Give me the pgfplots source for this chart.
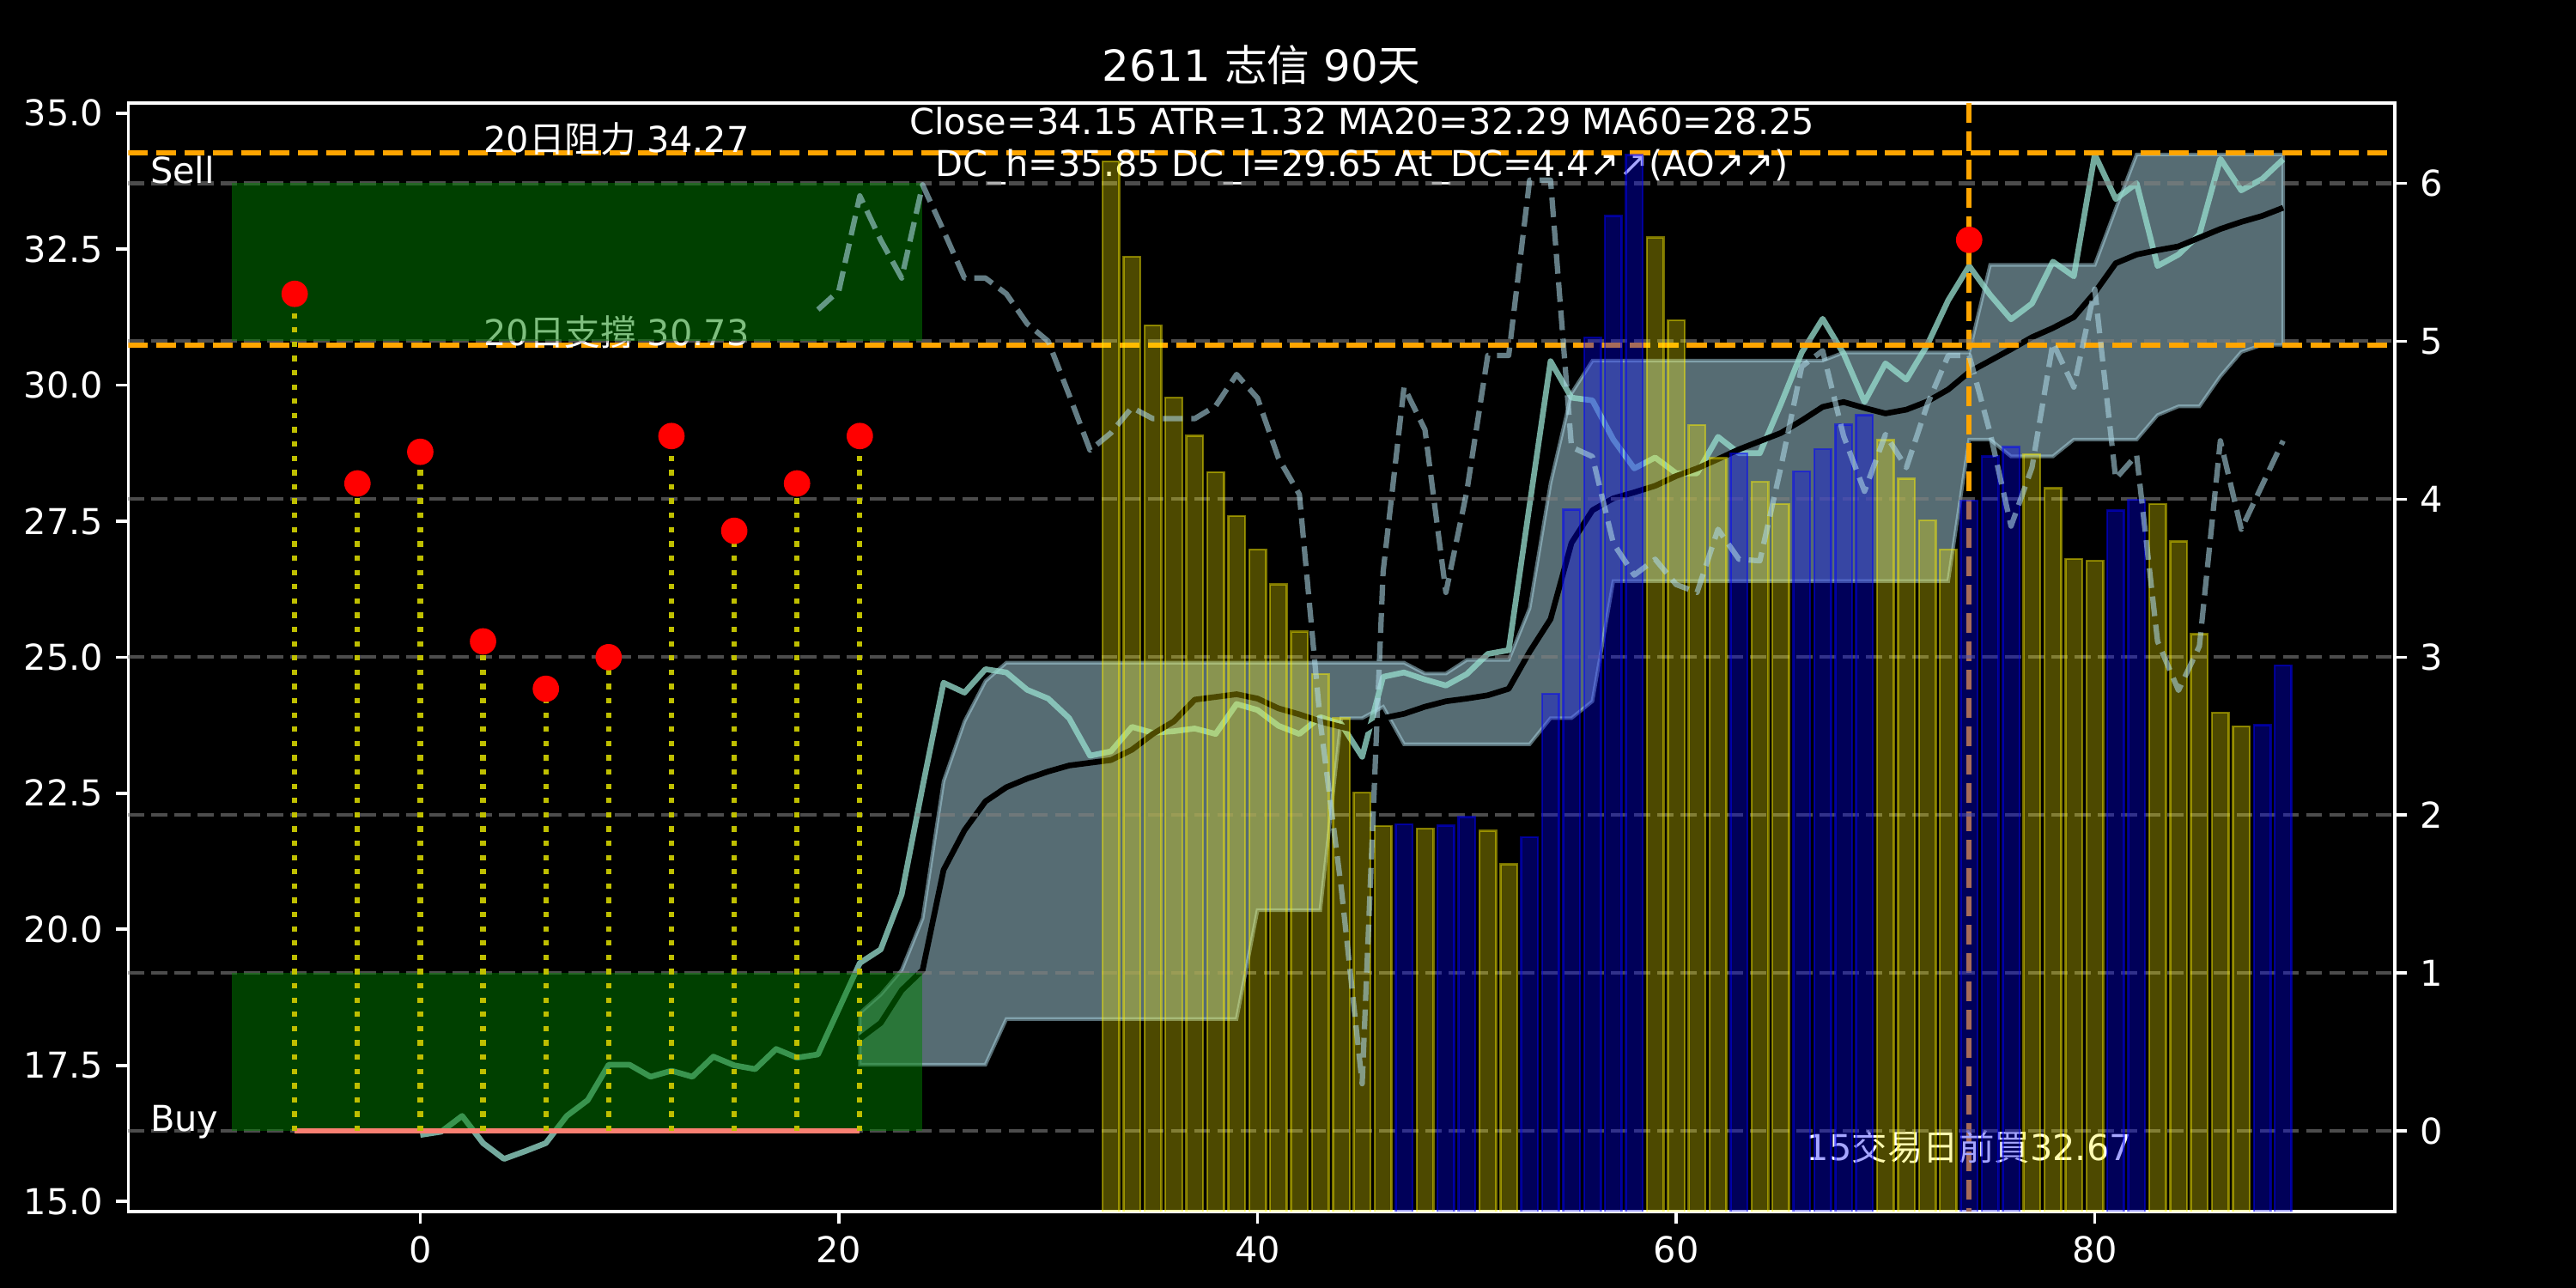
\documentclass[border=0pt]{standalone}
\usepackage{fontspec}
\setmainfont{DejaVu Sans}
\newfontfamily\cjk{Noto Sans CJK TC}
\usepackage{pgfplots}
\usepackage{pgfplotstable}
\pgfplotsset{compat=1.18}
\definecolor{bandc}{RGB}{173,216,230}
\definecolor{closec}{RGB}{150,220,205}
\definecolor{orangec}{RGB}{255,165,0}
\definecolor{salmonc}{RGB}{250,128,114}
\definecolor{stemc}{RGB}{191,191,0}
\definecolor{greenc}{RGB}{0,128,0}
\definecolor{gridc}{RGB}{128,128,128}

\pgfplotstableread{
x close
0 16.22
1 16.28
2 16.57
3 16.07
4 15.78
5 15.92
6 16.07
7 16.57
8 16.86
9 17.51
10 17.51
11 17.29
12 17.40
13 17.29
14 17.66
15 17.50
16 17.43
17 17.80
18 17.64
19 17.70
20 18.54
21 19.38
22 19.63
23 20.64
24 22.62
25 24.53
26 24.35
27 24.78
28 24.72
29 24.40
30 24.24
31 23.88
32 23.19
33 23.27
34 23.72
35 23.61
36 23.64
37 23.69
38 23.59
39 24.14
40 24.03
41 23.74
42 23.59
43 23.90
44 23.77
45 23.17
46 24.64
47 24.72
48 24.59
49 24.48
50 24.69
51 25.06
52 25.13
53 27.80
54 30.44
55 29.77
56 29.72
57 29.00
58 28.47
59 28.67
60 28.38
61 28.38
62 29.05
63 28.75
64 28.75
65 29.65
66 30.60
67 31.22
68 30.58
69 29.69
70 30.40
71 30.10
72 30.74
73 31.56
74 32.19
75 31.66
76 31.21
77 31.50
78 32.27
79 32.00
80 34.24
81 33.42
82 33.71
83 32.19
84 32.40
85 32.77
86 34.16
87 33.58
88 33.79
89 34.15
}\closetab

\pgfplotstableread{
x ma
21 17.99
22 18.28
23 18.88
24 19.25
25 21.09
26 21.82
27 22.35
28 22.61
29 22.77
30 22.90
31 23.01
32 23.06
33 23.11
34 23.30
35 23.59
36 23.82
37 24.22
38 24.27
39 24.32
40 24.24
41 24.06
42 23.95
43 23.82
44 23.72
45 23.64
46 23.88
47 23.96
48 24.09
49 24.19
50 24.24
51 24.30
52 24.42
53 25.10
54 25.70
55 27.10
56 27.70
57 27.92
58 28.03
59 28.15
60 28.33
61 28.47
62 28.64
63 28.82
64 28.97
65 29.12
66 29.35
67 29.60
68 29.69
69 29.58
70 29.48
71 29.55
72 29.70
73 29.92
74 30.24
75 30.45
76 30.66
77 30.88
78 31.05
79 31.25
80 31.70
81 32.24
82 32.40
83 32.48
84 32.55
85 32.71
86 32.87
87 33.00
88 33.11
89 33.26
}\matab

% Donchian-style band: upper edge left to right, then lower edge right to left
\pgfplotstableread{
x y
21 18.46
22 18.80
23 19.25
24 20.20
25 22.72
26 23.82
27 24.56
28 24.90
47 24.90
48 24.70
49 24.70
50 24.95
52 24.95
53 25.90
54 28.20
55 29.85
56 30.45
67 30.45
68 30.60
74 30.60
75 32.21
80 32.21
81 33.24
82 34.24
89 34.24
89 30.74
88 30.74
87 30.61
86 30.16
85 29.61
84 29.61
83 29.45
82 29.00
79 29.00
78 28.69
76 28.69
75 29.00
74 29.00
73 26.40
57 26.40
56 24.19
55 23.88
54 23.88
53 23.40
47 23.40
46 24.09
45 23.88
44 23.88
43 20.35
40 20.35
39 18.35
28 18.35
27 17.51
21 17.51
}\bandtab

\pgfplotstableread{
x atdc
19 5.20
20 5.32
21 5.92
22 5.64
23 5.40
24 5.99
25 5.70
26 5.40
27 5.40
28 5.30
29 5.11
30 5.00
31 4.66
32 4.31
33 4.42
34 4.58
35 4.51
36 4.51
37 4.51
38 4.59
39 4.79
40 4.64
41 4.26
42 4.03
43 2.59
44 1.54
45 0.30
46 3.54
47 4.71
48 4.44
49 3.41
50 4.05
51 4.91
52 4.91
53 6.02
54 6.02
55 4.33
56 4.27
57 3.72
58 3.52
59 3.62
60 3.46
61 3.41
62 3.81
63 3.62
64 3.61
65 4.20
66 4.84
67 4.94
68 4.40
69 4.05
70 4.41
71 4.20
72 4.60
73 4.91
74 4.91
75 4.42
76 3.83
77 4.20
78 4.99
79 4.71
80 5.33
81 4.13
82 4.28
83 3.10
84 2.79
85 3.07
86 4.37
87 3.81
88 4.09
89 4.37
}\atdctab

% bars: outline of each bar (x-0.4 .. x+0.4, from below the axis to the value)
\pgfplotstableread{
x y
32.6 -1
32.6 6.137
33.4 6.137
33.4 -1
33.6 -1
33.6 5.536
34.4 5.536
34.4 -1
34.6 -1
34.6 5.101
35.4 5.101
35.4 -1
35.6 -1
35.6 4.643
36.4 4.643
36.4 -1
36.6 -1
36.6 4.402
37.4 4.402
37.4 -1
37.6 -1
37.6 4.172
38.4 4.172
38.4 -1
38.6 -1
38.6 3.894
39.4 3.894
39.4 -1
39.6 -1
39.6 3.682
40.4 3.682
40.4 -1
40.6 -1
40.6 3.461
41.4 3.461
41.4 -1
41.6 -1
41.6 3.162
42.4 3.162
42.4 -1
42.6 -1
42.6 2.894
43.4 2.894
43.4 -1
43.6 -1
43.6 2.613
44.4 2.613
44.4 -1
44.6 -1
44.6 2.142
45.4 2.142
45.4 -1
45.6 -1
45.6 1.930
46.4 1.930
46.4 -1
47.6 -1
47.6 1.916
48.4 1.916
48.4 -1
50.6 -1
50.6 1.901
51.4 1.901
51.4 -1
51.6 -1
51.6 1.689
52.4 1.689
52.4 -1
58.6 -1
58.6 5.657
59.4 5.657
59.4 -1
59.6 -1
59.6 5.132
60.4 5.132
60.4 -1
60.6 -1
60.6 4.470
61.4 4.470
61.4 -1
61.6 -1
61.6 4.260
62.4 4.260
62.4 -1
63.6 -1
63.6 4.110
64.4 4.110
64.4 -1
64.6 -1
64.6 3.970
65.4 3.970
65.4 -1
69.6 -1
69.6 4.375
70.4 4.375
70.4 -1
70.6 -1
70.6 4.130
71.4 4.130
71.4 -1
71.6 -1
71.6 3.865
72.4 3.865
72.4 -1
72.6 -1
72.6 3.682
73.4 3.682
73.4 -1
76.6 -1
76.6 4.285
77.4 4.285
77.4 -1
77.6 -1
77.6 4.070
78.4 4.070
78.4 -1
78.6 -1
78.6 3.622
79.4 3.622
79.4 -1
79.6 -1
79.6 3.610
80.4 3.610
80.4 -1
82.6 -1
82.6 3.970
83.4 3.970
83.4 -1
83.6 -1
83.6 3.734
84.4 3.734
84.4 -1
84.6 -1
84.6 3.147
85.4 3.147
85.4 -1
85.6 -1
85.6 2.650
86.4 2.650
86.4 -1
86.6 -1
86.6 2.562
87.4 2.562
87.4 -1
}\ybars

\pgfplotstableread{
x y
46.6 -1
46.6 1.943
47.4 1.943
47.4 -1
48.6 -1
48.6 1.934
49.4 1.934
49.4 -1
49.6 -1
49.6 1.988
50.4 1.988
50.4 -1
52.6 -1
52.6 1.861
53.4 1.861
53.4 -1
53.6 -1
53.6 2.767
54.4 2.767
54.4 -1
54.6 -1
54.6 3.935
55.4 3.935
55.4 -1
55.6 -1
55.6 5.023
56.4 5.023
56.4 -1
56.6 -1
56.6 5.793
57.4 5.793
57.4 -1
57.6 -1
57.6 6.180
58.4 6.180
58.4 -1
62.6 -1
62.6 4.290
63.4 4.290
63.4 -1
65.6 -1
65.6 4.175
66.4 4.175
66.4 -1
66.6 -1
66.6 4.316
67.4 4.316
67.4 -1
67.6 -1
67.6 4.472
68.4 4.472
68.4 -1
68.6 -1
68.6 4.533
69.4 4.533
69.4 -1
73.6 -1
73.6 3.990
74.4 3.990
74.4 -1
74.6 -1
74.6 4.270
75.4 4.270
75.4 -1
75.6 -1
75.6 4.330
76.4 4.330
76.4 -1
80.6 -1
80.6 3.930
81.4 3.930
81.4 -1
81.6 -1
81.6 3.997
82.4 3.997
82.4 -1
87.6 -1
87.6 2.570
88.4 2.570
88.4 -1
88.6 -1
88.6 2.948
89.4 2.948
89.4 -1
}\bbars

\tikzset{txt/.style={text=white, inner sep=0pt, font=\fontsize{10}{12}\selectfont}}

\begin{document}
\begin{tikzpicture}
\fill[black] (0,0) rectangle (10in,5in);
\pgfplotsset{
  base/.style={
    at={(0.498in,0.2977in)}, anchor=south west,
    scale only axis, width=8.798in, height=4.3023in,
    xmin=-13.95, xmax=94.33,
    axis line style={white, line width=0.9pt},
    tick style={white, line width=0.9pt},
    major tick length=3.5pt,
    tick align=outside,
    tick label style={text=white, font=\fontsize{10}{12}\selectfont},
    /pgf/number format/assume math mode=true,
  },
}
% ---------------- left (price) axis ----------------
\begin{axis}[base,
  ymin=14.817, ymax=35.185,
  tick pos=left,
  xtick={0,20,40,60,80},
  ytick={15,17.5,20,22.5,25,27.5,30,32.5,35},
  yticklabel style={/pgf/number format/.cd, fixed, fixed zerofill, precision=1},
]
\addplot[fill=bandc, fill opacity=0.5, draw=bandc, draw opacity=0.5, line width=1pt] table[x=x,y=y]{\bandtab} -- cycle;
\addplot[closec, opacity=0.77, line width=1.6pt, line join=round] table[x=x,y=close]{\closetab};
\addplot[black, line width=1.6pt, line join=round] table[x=x,y=ma]{\matab};
\addplot[orangec, line width=1.5pt, dash pattern=on 5.55pt off 2.4pt] coordinates {(-13.95,34.27) (94.33,34.27)};
\addplot[orangec, line width=1.5pt, dash pattern=on 5.55pt off 2.4pt] coordinates {(-13.95,30.73) (94.33,30.73)};
\addplot[orangec, line width=1.5pt, dash pattern=on 5.55pt off 2.4pt] coordinates {(74,35.185) (74,14.817)};
\addplot[only marks, mark=*, mark size=3.5pt, mark options={draw=red, fill=red}] coordinates {(74,32.67)};
\node[txt, anchor=base west] at (axis cs:3,34.27) {20{\cjk 日阻力} 34.27};
\node[txt, anchor=base west] at (axis cs:3,30.73) {20{\cjk 日支撐} 30.73};
\node[txt, anchor=base] at (axis cs:45,34.605) {Close=34.15 ATR=1.32 MA20=32.29 MA60=28.25};
\node[txt, anchor=base] at (axis cs:45,33.843) {DC\_h=35.85 DC\_l=29.65 At\_DC=4.4↗↗(AO↗↗)};
\node[txt, anchor=base] at (axis cs:74,15.75) {15{\cjk 交易日前買}32.67};
\end{axis}
% ---------------- right (indicator) axis ----------------
\begin{axis}[base,
  ymin=-0.5075, ymax=6.508,
  axis x line=none, axis y line*=right,
  ytick={0,1,2,3,4,5,6},
  ymajorgrids,
  grid style={gridc, opacity=0.6, line width=1pt, dash pattern=on 4.5pt off 2pt},
]
% zones
\addplot[draw=none, fill=greenc, fill opacity=0.5] coordinates {(-9,5) (24,5) (24,6) (-9,6)} -- cycle;
\addplot[draw=none, fill=greenc, fill opacity=0.5] coordinates {(-9,0) (24,0) (24,1) (-9,1)} -- cycle;
\addplot[salmonc, line width=1.5pt] coordinates {(-6,0) (21,0)};
% stems and dots
\addplot[ycomb, stemc, line width=1.5pt, dash pattern=on 1.5pt off 2.5pt] coordinates {(-6,5.30) (-3,4.10) (0,4.30) (3,3.10) (6,2.80) (9,3.00) (12,4.40) (15,3.80) (18,4.10) (21,4.40)};
\addplot[only marks, mark=*, mark size=3.5pt, mark options={draw=red, fill=red}] coordinates {(-6,5.30) (-3,4.10) (0,4.30) (3,3.10) (6,2.80) (9,3.00) (12,4.40) (15,3.80) (18,4.10) (21,4.40)};
% bars
\addplot[fill=yellow, fill opacity=0.3, draw=yellow, draw opacity=0.45, line width=0.6pt] table[x=x,y=y]{\ybars};
\addplot[fill=blue, fill opacity=0.35, draw=blue, draw opacity=0.5, line width=0.6pt] table[x=x,y=y]{\bbars};
% At_DC dashed
\addplot[bandc, opacity=0.58, line width=1.5pt, dash pattern=on 5.55pt off 2.4pt, line join=round] table[x=x,y=atdc]{\atdctab};
\node[txt, anchor=base west] at (axis cs:-12.93,6) {Sell};
\node[txt, anchor=base west] at (axis cs:-12.93,0) {Buy};
\end{axis}
\node[text=white, inner sep=0pt, anchor=base, font=\fontsize{12}{14.4}\selectfont] at (4.897in,4.685in) {2611 {\cjk 志信} 90{\cjk 天}};
\pgfresetboundingbox
\path (0,0) rectangle (10in,5in);
\end{tikzpicture}
\end{document}
